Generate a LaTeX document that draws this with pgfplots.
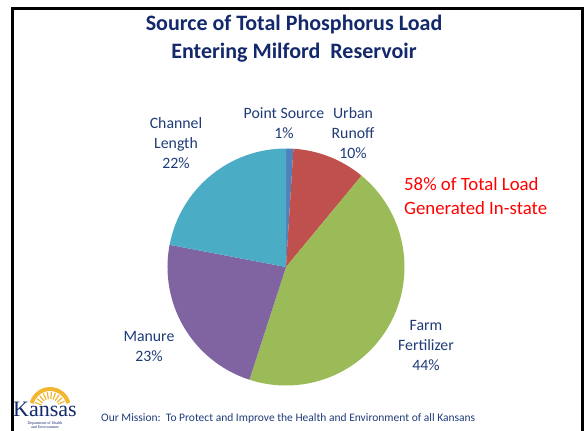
\documentclass[border=0pt]{standalone}
\usepackage{pgfplots}
\pgfplotsset{compat=1.18}
\usepackage{pgfplotstable}
\usepackage{fontspec}
\setmainfont{Carlito}
\newfontfamily\seriffont{Liberation Serif}
\definecolor{col0}{HTML}{4F81BD}
\definecolor{col1}{HTML}{C0504D}
\definecolor{col2}{HTML}{9BBB59}
\definecolor{col3}{HTML}{8064A2}
\definecolor{col4}{HTML}{4BACC6}
\definecolor{titleblue}{HTML}{13296B}
\definecolor{labelblue}{HTML}{1F3C78}
\definecolor{sungold}{HTML}{F2B630}
\pgfplotstableread{
label value
PointSource 1
UrbanRunoff 10
FarmFertilizer 44
Manure 23
ChannelLength 22
}\piedata
\begin{document}
\begin{tikzpicture}
\gdef\cum{90}
\foreach \i in {0,...,4}{%
  \pgfplotstablegetelem{\i}{value}\of\piedata
  \pgfmathsetmacro\endang{\cum-3.6*\pgfplotsretval}%
  \expandafter\xdef\csname pstart\i\endcsname{\cum}%
  \expandafter\xdef\csname pend\i\endcsname{\endang}%
  \xdef\cum{\endang}%
}
\begin{axis}[scale only axis, width=585bp, height=431bp,
  xmin=0, xmax=585, ymin=0, ymax=431, y dir=reverse,
  axis lines=none, clip=false]
\pgfplotsinvokeforeach{0,...,4}{%
  \edef\temp{\noexpand\fill[col#1] (axis cs:286,267) -- ++(\csname pstart#1\endcsname:118.5bp)
    arc[start angle=\csname pstart#1\endcsname, end angle=\csname pend#1\endcsname, radius=118.5bp] -- cycle;}%
  \temp
}
% frame
\draw[line width=3bp, line cap=rect] (axis cs:12.5,431) -- (axis cs:12.5,8.5) -- (axis cs:582,8.5) -- (axis cs:582,431);
% title
\node[inner sep=0, align=center, text=titleblue, font=\fontsize{22bp}{28bp}\selectfont\bfseries] at (axis cs:294,39)
  {Source of Total Phosphorus Load\\Entering Milford\ \ Reservoir};
% labels
\begin{scope}[every node/.style={inner sep=0, align=center, text=labelblue, font=\fontsize{15.8bp}{20bp}\selectfont}]
\node at (axis cs:176,143) {Channel\\Length\\22\%};
\node at (axis cs:284,123) {Point Source\\1\%};
\node at (axis cs:353,133) {Urban\\Runoff\\10\%};
\node at (axis cs:149,346) {Manure\\23\%};
\node at (axis cs:426,345) {Farm\\Fertilizer\\44\%};
\end{scope}
\node[inner sep=0, anchor=west, align=left, text=red, font=\fontsize{18.8bp}{24bp}\selectfont] at (axis cs:404,196)
  {58\% of Total Load\\Generated In-state};
% footer
\node[inner sep=0, anchor=west, text=labelblue, font=\fontsize{11.5bp}{13bp}\selectfont] at (axis cs:101,418)
  {Our Mission:\ \ To Protect and Improve the Health and Environment of all Kansans};
% logo
\draw[sungold, line width=4bp] ([shift={(15:19bp)}]axis cs:50,408) arc[start angle=15, end angle=165, radius=19bp];
\pgfplotsinvokeforeach{25,40,...,160}{\draw[sungold, line width=1.2bp] ([shift={(#1:9bp)}]axis cs:50,408) -- ([shift={(#1:16bp)}]axis cs:50,408);}
\node[inner sep=0, text=titleblue, font=\seriffont\fontsize{22bp}{22bp}\selectfont] at (axis cs:45,409) {Kansas};
\node[inner sep=0, align=center, text=titleblue, font=\seriffont\fontsize{4bp}{4.5bp}\selectfont] at (axis cs:45,425) {Department of Health\\and Environment};
\end{axis}
\pgfresetboundingbox
\path (current axis.south west) rectangle (current axis.north east);
\end{tikzpicture}
\end{document}
